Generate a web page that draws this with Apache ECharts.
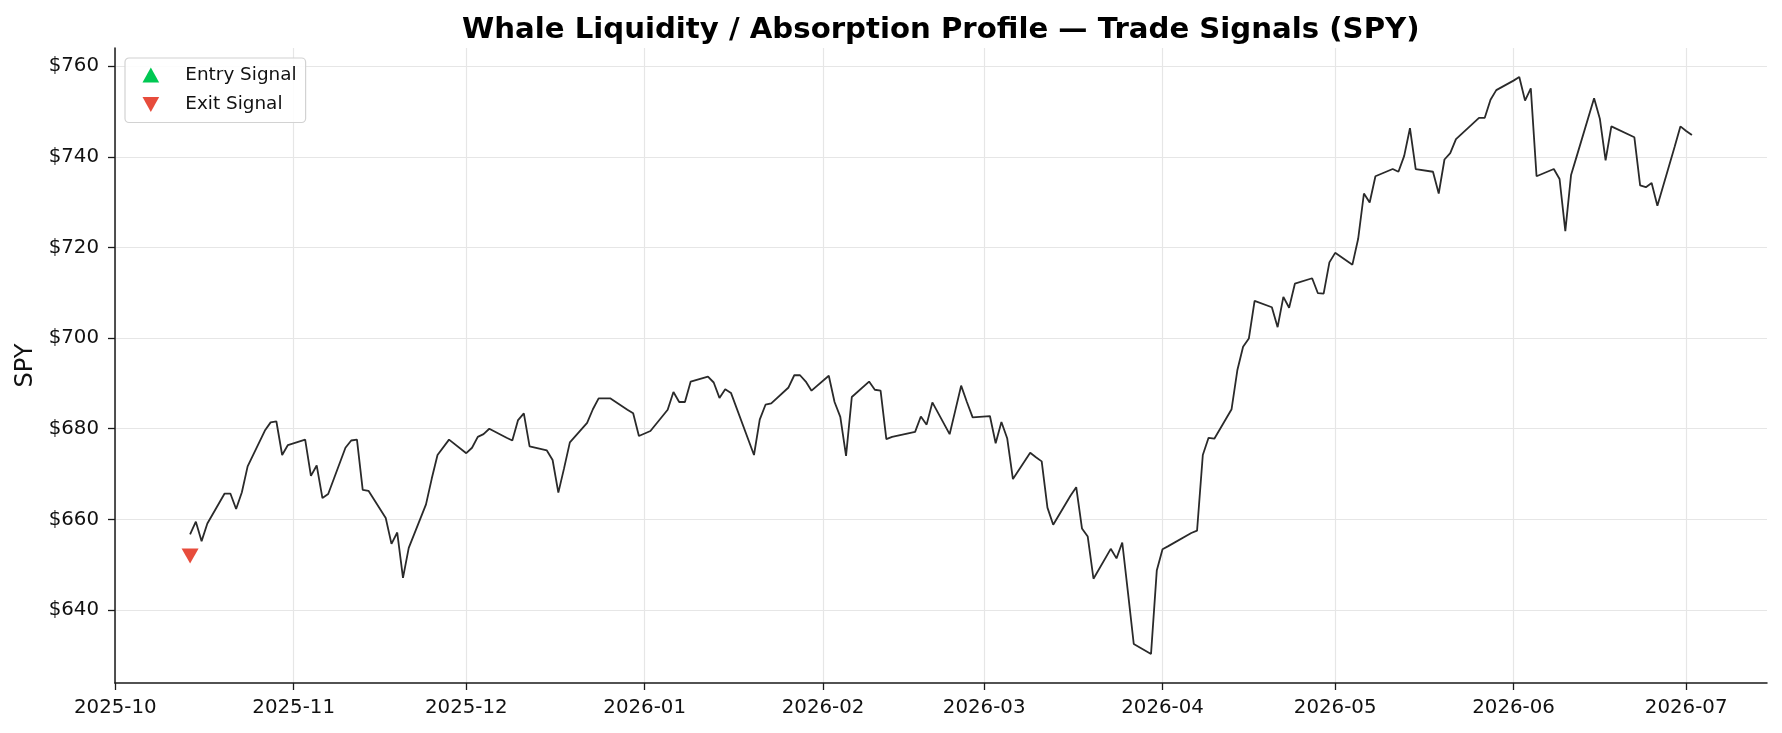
<!DOCTYPE html>
<html><head><meta charset="utf-8">
<script src="https://cdn.jsdelivr.net/npm/echarts@6/dist/echarts.min.js"></script>
<style>html,body{margin:0;padding:0;background:#fff}#c{width:1782px;height:733px}</style>
</head><body><div id="c"></div>
<script>
const dates = [
'2025-10-14','2025-10-15','2025-10-16','2025-10-17','2025-10-20','2025-10-21','2025-10-22','2025-10-23','2025-10-24',
'2025-10-27','2025-10-28','2025-10-29','2025-10-30','2025-10-31',
'2025-11-03','2025-11-04','2025-11-05','2025-11-06','2025-11-07','2025-11-10','2025-11-11','2025-11-12','2025-11-13','2025-11-14',
'2025-11-17','2025-11-18','2025-11-19','2025-11-20','2025-11-21','2025-11-24','2025-11-25','2025-11-26','2025-11-28',
'2025-12-01','2025-12-02','2025-12-03','2025-12-04','2025-12-05','2025-12-08','2025-12-09','2025-12-10','2025-12-11','2025-12-12',
'2025-12-15','2025-12-16','2025-12-17','2025-12-18','2025-12-19','2025-12-22','2025-12-23','2025-12-24','2025-12-26',
'2025-12-29','2025-12-30','2025-12-31',
'2026-01-02','2026-01-05','2026-01-06','2026-01-07','2026-01-08','2026-01-09','2026-01-12','2026-01-13','2026-01-14','2026-01-15','2026-01-16',
'2026-01-20','2026-01-21','2026-01-22','2026-01-23','2026-01-26','2026-01-27','2026-01-28','2026-01-29','2026-01-30',
'2026-02-02','2026-02-03','2026-02-04','2026-02-05','2026-02-06','2026-02-09','2026-02-10','2026-02-11','2026-02-12','2026-02-13',
'2026-02-17','2026-02-18','2026-02-19','2026-02-20','2026-02-23','2026-02-24','2026-02-25','2026-02-26','2026-02-27',
'2026-03-02','2026-03-03','2026-03-04','2026-03-05','2026-03-06','2026-03-09','2026-03-10','2026-03-11','2026-03-12','2026-03-13',
'2026-03-16','2026-03-17','2026-03-18','2026-03-19','2026-03-20','2026-03-23','2026-03-24','2026-03-25','2026-03-26','2026-03-27',
'2026-03-30','2026-03-31','2026-04-01','2026-04-02','2026-04-06','2026-04-07','2026-04-08','2026-04-09','2026-04-10',
'2026-04-13','2026-04-14','2026-04-15','2026-04-16','2026-04-17','2026-04-20','2026-04-21','2026-04-22','2026-04-23','2026-04-24',
'2026-04-27','2026-04-28','2026-04-29','2026-04-30','2026-05-01','2026-05-04','2026-05-05','2026-05-06','2026-05-07','2026-05-08',
'2026-05-11','2026-05-12','2026-05-13','2026-05-14','2026-05-15','2026-05-18','2026-05-19','2026-05-20','2026-05-21','2026-05-22',
'2026-05-26','2026-05-27','2026-05-28','2026-05-29','2026-06-01','2026-06-02','2026-06-03','2026-06-04','2026-06-05',
'2026-06-08','2026-06-09','2026-06-10','2026-06-11','2026-06-12','2026-06-15','2026-06-16','2026-06-17','2026-06-18',
'2026-06-22','2026-06-23','2026-06-24','2026-06-25','2026-06-26','2026-06-29','2026-06-30','2026-07-01','2026-07-02'
];
const closes = [
656.7,659.5,655.2,659.1,665.7,665.7,662.3,666.0,671.7,
679.6,681.4,681.6,674.2,676.4,
677.6,669.6,671.9,664.7,665.6,675.8,677.4,677.6,666.5,666.3,
660.3,654.6,657.1,647.1,653.7,663.3,669.0,674.2,677.6,
674.6,675.8,678.2,678.8,680.0,678.0,677.4,681.9,683.4,676.1,
675.2,673.1,665.9,671.3,677.0,681.3,684.3,686.7,686.7,
684.2,683.4,678.4,
679.5,684.2,688.1,685.9,685.9,690.4,691.5,690.2,686.8,688.7,687.9,
674.2,682.0,685.3,685.6,689.1,691.8,691.8,690.4,688.4,
691.7,685.9,682.6,674.0,687.0,690.4,688.6,688.4,677.7,678.2,
679.3,682.7,680.9,685.8,678.8,684.1,689.5,685.9,682.5,
682.8,676.8,681.5,677.9,668.9,674.7,673.7,672.8,662.6,658.8,
665.2,667.1,658.0,656.2,646.9,653.5,651.4,654.9,643.8,632.5,
630.3,648.7,653.4,654.1,657.0,657.5,674.2,678.0,677.8,
684.3,692.9,698.1,699.9,708.2,706.8,702.4,709.1,706.7,712.0,
713.2,709.9,709.8,716.7,718.8,716.2,721.9,731.9,729.9,735.7,
737.3,736.7,740.2,746.3,737.3,736.7,731.9,739.4,740.8,743.9,
748.6,748.6,752.6,754.7,756.8,757.6,752.4,755.1,735.7,
737.3,735.1,723.6,736.0,740.2,752.9,748.4,739.2,746.7,
744.3,733.7,733.3,734.2,729.2,742.2,746.7,745.7,744.8
];
const entryDates = [];
const entryPrices = [];
const exitDates = ['2025-10-14'];
const exitPrices = [651.9];
const yTicks = [640, 660, 680, 700, 720, 740, 760];
const xTicks = ['2025-10-01','2025-11-01','2025-12-01','2026-01-01','2026-02-01','2026-03-01','2026-04-01','2026-05-01','2026-06-01','2026-07-01'];

function ts(s) { const p = s.split('-').map(Number); return Date.UTC(p[0], p[1] - 1, p[2]); }
function fmtMonth(v) { const d = new Date(v); const m = d.getUTCMonth() + 1; return d.getUTCFullYear() + '-' + (m < 10 ? '0' + m : m); }

const first = ts(dates[0]), last = ts(dates[dates.length - 1]);
const span = last - first;
const xMin = first - 0.05 * span, xMax = last + 0.05 * span;
const FONT = 'DejaVu Sans';
const UP = 'path://M5,0L10,9L0,9Z';
const DOWN = 'path://M0,0L10,0L5,9Z';

const chart = echarts.init(document.getElementById('c'), null, { renderer: 'canvas' });
chart.setOption({
  animation: false,
  backgroundColor: '#ffffff',
  textStyle: { fontFamily: FONT },
  title: {
    text: 'Whale Liquidity / Absorption Profile \u2014 Trade Signals (SPY)',
    left: 462, top: 15.5, padding: 0,
    textStyle: { fontFamily: FONT, fontWeight: 'bold', fontSize: 29.2, color: '#000' }
  },
  grid: { left: 115, right: 15, top: 48, bottom: 50, containLabel: false },
  legend: {
    orient: 'vertical', left: 125, top: 58,
    padding: [7, 9, 8, 17.5],
    itemWidth: 17, itemHeight: 15, itemGap: 9.5,
    borderColor: '#d2d2d2', borderWidth: 1.2, borderRadius: 4,
    backgroundColor: 'rgba(255,255,255,0.85)',
    textStyle: { fontFamily: FONT, fontSize: 18.4, color: '#111', lineHeight: 20, padding: [0, 0, 0, 21] },
    data: [{ name: 'Entry Signal', icon: UP }, { name: 'Exit Signal', icon: DOWN }]
  },
  xAxis: {
    type: 'value', min: xMin, max: xMax, scale: true,
    axisLine: { show: true, onZero: false, lineStyle: { color: '#1a1a1a', width: 1.5 } },
    axisTick: { show: true, length: 7, lineStyle: { color: '#1a1a1a', width: 1.3 }, customValues: xTicks.map(ts) },
    axisLabel: { customValues: xTicks.map(ts), formatter: fmtMonth, fontFamily: FONT, fontSize: 19.8, color: '#111', margin: 15 },
    splitLine: { show: true, lineStyle: { color: '#e6e6e6', width: 1.2 } }
  },
  yAxis: {
    type: 'value', min: 623.9, max: 764.0, scale: true,
    name: 'SPY', nameLocation: 'middle', nameGap: 71.5, nameRotate: 90,
    nameTextStyle: { fontFamily: FONT, fontSize: 24, color: '#111' },
    axisLine: { show: true, onZero: false, lineStyle: { color: '#1a1a1a', width: 1.5 } },
    axisTick: { show: true, length: 7, lineStyle: { color: '#1a1a1a', width: 1.3 }, customValues: yTicks },
    axisLabel: { customValues: yTicks, formatter: v => '$' + Math.round(v), fontFamily: FONT, fontSize: 19.8, color: '#111', margin: 16 },
    splitLine: { show: true, lineStyle: { color: '#e6e6e6', width: 1.2 } }
  },
  series: [
    {
      name: 'SPY', type: 'line', showSymbol: false, symbol: 'none',
      data: dates.map((d, i) => [ts(d), closes[i]]),
      lineStyle: { color: '#2a2a2a', width: 1.8 }, itemStyle: { color: '#2a2a2a' },
      z: 3
    },
    {
      name: 'Entry Signal', type: 'scatter', symbol: UP, symbolSize: [17, 15],
      itemStyle: { color: '#00c853', opacity: 1 },
      data: entryDates.map((d, i) => [ts(d), entryPrices[i]]), z: 5
    },
    {
      name: 'Exit Signal', type: 'scatter', symbol: DOWN, symbolSize: [17, 15],
      itemStyle: { color: '#e74c3c', opacity: 1 },
      data: exitDates.map((d, i) => [ts(d), exitPrices[i]]), z: 5
    }
  ]
});
</script>
</body></html>
